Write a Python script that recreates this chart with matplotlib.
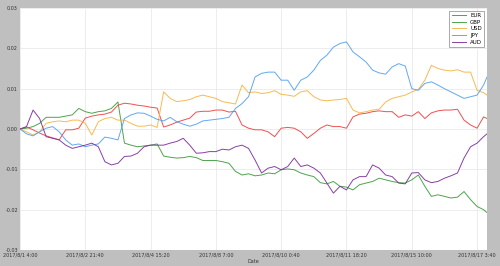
import matplotlib
matplotlib.use('Agg')
import matplotlib.pyplot as plt
import numpy as np

#%%
# cumulative returns, one value every 25 ten-minute steps
steps = list(range(0, 1776, 25)) + [1788]

eur = [0.0000, 0.0005, -0.0002, -0.0010, -0.0017, -0.0022, -0.0027, -0.0002, -0.0002, 0.0002,
       0.0027, 0.0032, 0.0035, 0.0037, 0.0042, 0.0059, 0.0064, 0.0062, 0.0059,
       0.0057, 0.0054, 0.0052, 0.0005, 0.0010, 0.0017, 0.0022, 0.0027, 0.0042, 0.0044,
       0.0044, 0.0047, 0.0047, 0.0042, 0.0044, 0.0010, 0.0002, -0.0002,
       -0.0002, -0.0007, -0.0019, 0.0002, 0.0004, 0.0002, -0.0007, -0.0023, -0.0011, 0.0002,
       0.0010, 0.0006, 0.0006, 0.0002, 0.0030, 0.0037, 0.0039, 0.0043,
       0.0045, 0.0043, 0.0043, 0.0029, 0.0035, 0.0032, 0.0043, 0.0026, 0.0040, 0.0045,
       0.0047, 0.0047, 0.0049, 0.0022, 0.0010, 0.0002, 0.0030, 0.0026]

gbp = [0.0000, 0.0002, 0.0006, 0.0014, 0.0029, 0.0029, 0.0029, 0.0032, 0.0035, 0.0051,
       0.0043, 0.0039, 0.0043, 0.0045, 0.0051, 0.0067, -0.0035, -0.0040, -0.0044,
       -0.0042, -0.0040, -0.0037, -0.0067, -0.0070, -0.0072, -0.0071, -0.0068, -0.0071, -0.0078,
       -0.0078, -0.0078, -0.0081, -0.0085, -0.0105, -0.0114, -0.0111, -0.0116,
       -0.0114, -0.0109, -0.0111, -0.0101, -0.0099, -0.0101, -0.0109, -0.0114, -0.0118, -0.0133,
       -0.0136, -0.0130, -0.0142, -0.0144, -0.0151, -0.0138, -0.0134, -0.0130,
       -0.0122, -0.0126, -0.0130, -0.0133, -0.0134, -0.0126, -0.0114, -0.0142, -0.0167, -0.0163,
       -0.0167, -0.0171, -0.0169, -0.0155, -0.0175, -0.0192, -0.0200, -0.0207]

usd = [0.0000, -0.0007, -0.0015, -0.0007, 0.0014, 0.0018, 0.0020, 0.0018, 0.0022, 0.0022,
       0.0014, -0.0015, 0.0018, 0.0026, 0.0029, 0.0022, 0.0022, 0.0014, 0.0007,
       0.0007, 0.0010, 0.0004, 0.0092, 0.0076, 0.0068, 0.0070, 0.0073, 0.0080, 0.0084,
       0.0080, 0.0076, 0.0068, 0.0065, 0.0062, 0.0109, 0.0090, 0.0092,
       0.0088, 0.0090, 0.0095, 0.0086, 0.0084, 0.0081, 0.0092, 0.0095, 0.0080, 0.0072,
       0.0070, 0.0072, 0.0073, 0.0076, 0.0047, 0.0040, 0.0043, 0.0047,
       0.0049, 0.0067, 0.0076, 0.0080, 0.0084, 0.0092, 0.0098, 0.0121, 0.0158, 0.0150,
       0.0146, 0.0144, 0.0147, 0.0141, 0.0141, 0.0096, 0.0090, 0.0084]

jpy = [0.0000, -0.0012, -0.0017, -0.0007, 0.0002, 0.0006, -0.0007, -0.0027, -0.0040, -0.0037,
       -0.0044, -0.0040, -0.0037, -0.0020, -0.0023, -0.0027, 0.0026, 0.0035, 0.0040,
       0.0039, 0.0032, 0.0024, 0.0020, 0.0029, 0.0018, 0.0012, 0.0007, 0.0012, 0.0020,
       0.0022, 0.0024, 0.0026, 0.0029, 0.0051, 0.0063, 0.0080, 0.0129,
       0.0138, 0.0141, 0.0141, 0.0121, 0.0121, 0.0096, 0.0121, 0.0129, 0.0146, 0.0170,
       0.0183, 0.0203, 0.0212, 0.0216, 0.0191, 0.0179, 0.0166, 0.0146,
       0.0139, 0.0136, 0.0154, 0.0162, 0.0156, 0.0100, 0.0096, 0.0113, 0.0117, 0.0109,
       0.0100, 0.0092, 0.0084, 0.0076, 0.0080, 0.0084, 0.0109, 0.0129]

aud = [0.0000, 0.0006, 0.0047, 0.0026, -0.0019, -0.0023, -0.0027, -0.0040, -0.0048, -0.0044,
       -0.0040, -0.0035, -0.0044, -0.0081, -0.0089, -0.0085, -0.0068, -0.0067, -0.0060,
       -0.0044, -0.0040, -0.0040, -0.0040, -0.0035, -0.0031, -0.0023, -0.0040, -0.0060, -0.0059,
       -0.0056, -0.0056, -0.0050, -0.0052, -0.0044, -0.0040, -0.0048, -0.0077,
       -0.0109, -0.0097, -0.0093, -0.0101, -0.0093, -0.0072, -0.0093, -0.0089, -0.0097, -0.0109,
       -0.0134, -0.0159, -0.0142, -0.0151, -0.0126, -0.0118, -0.0118, -0.0089,
       -0.0097, -0.0114, -0.0118, -0.0134, -0.0136, -0.0109, -0.0108, -0.0126, -0.0133, -0.0130,
       -0.0122, -0.0116, -0.0109, -0.0072, -0.0044, -0.0035, -0.0019, -0.0012]

names = ['EUR', 'GBP', 'USD', 'JPY', 'AUD']
colors = ['#f03c3c', '#3a9a3a', '#f7b240', '#4f9ff0', '#7d2a9c']

tick_steps = [0, 250, 500, 750, 1000, 1250, 1500, 1750]
tick_labels = ['2017/8/1 4:00', '2017/8/2 21:40', '2017/8/4 15:20', '2017/8/8 7:00',
               '2017/8/10 0:40', '2017/8/11 18:20', '2017/8/15 10:00', '2017/8/17 3:40']

#%%
fig = plt.figure(figsize=(5, 2.66), dpi=100, facecolor='#bfbfbf')
ax = fig.add_axes([0.04, 0.06, 0.934, 0.91])
ax.set_facecolor('white')

for series, name, col in zip([eur, gbp, usd, jpy, aud], names, colors):
    ax.plot(steps, series, color=col, lw=0.7, alpha=0.9, label=name)

ax.set_xlim(0, 1788)
ax.set_ylim(-0.03, 0.03)
ax.set_xticks(tick_steps)
ax.set_xticklabels(tick_labels)
ax.set_yticks(np.arange(-0.03, 0.031, 0.01))
ax.set_yticklabels(['-0.03', '-0.02', '-0.01', '0.00', '0.01', '0.02', '0.03'])
ax.tick_params(labelsize=3.5, length=0, pad=1.5, colors='#333333')
ax.grid(True, color='#e6e6e6', lw=0.5)
for sp in ax.spines.values():
    sp.set_visible(False)
ax.set_xlabel('Date', fontsize=3.5, labelpad=1.5, color='#333333')

leg = ax.legend(loc='upper right', fontsize=4, handlelength=2.5, borderpad=0.4,
                labelspacing=0.3, fancybox=False, framealpha=1)
leg.get_frame().set_edgecolor('#888888')
leg.get_frame().set_linewidth(0.5)

fig.savefig('out.png', dpi=100, facecolor=fig.get_facecolor())
